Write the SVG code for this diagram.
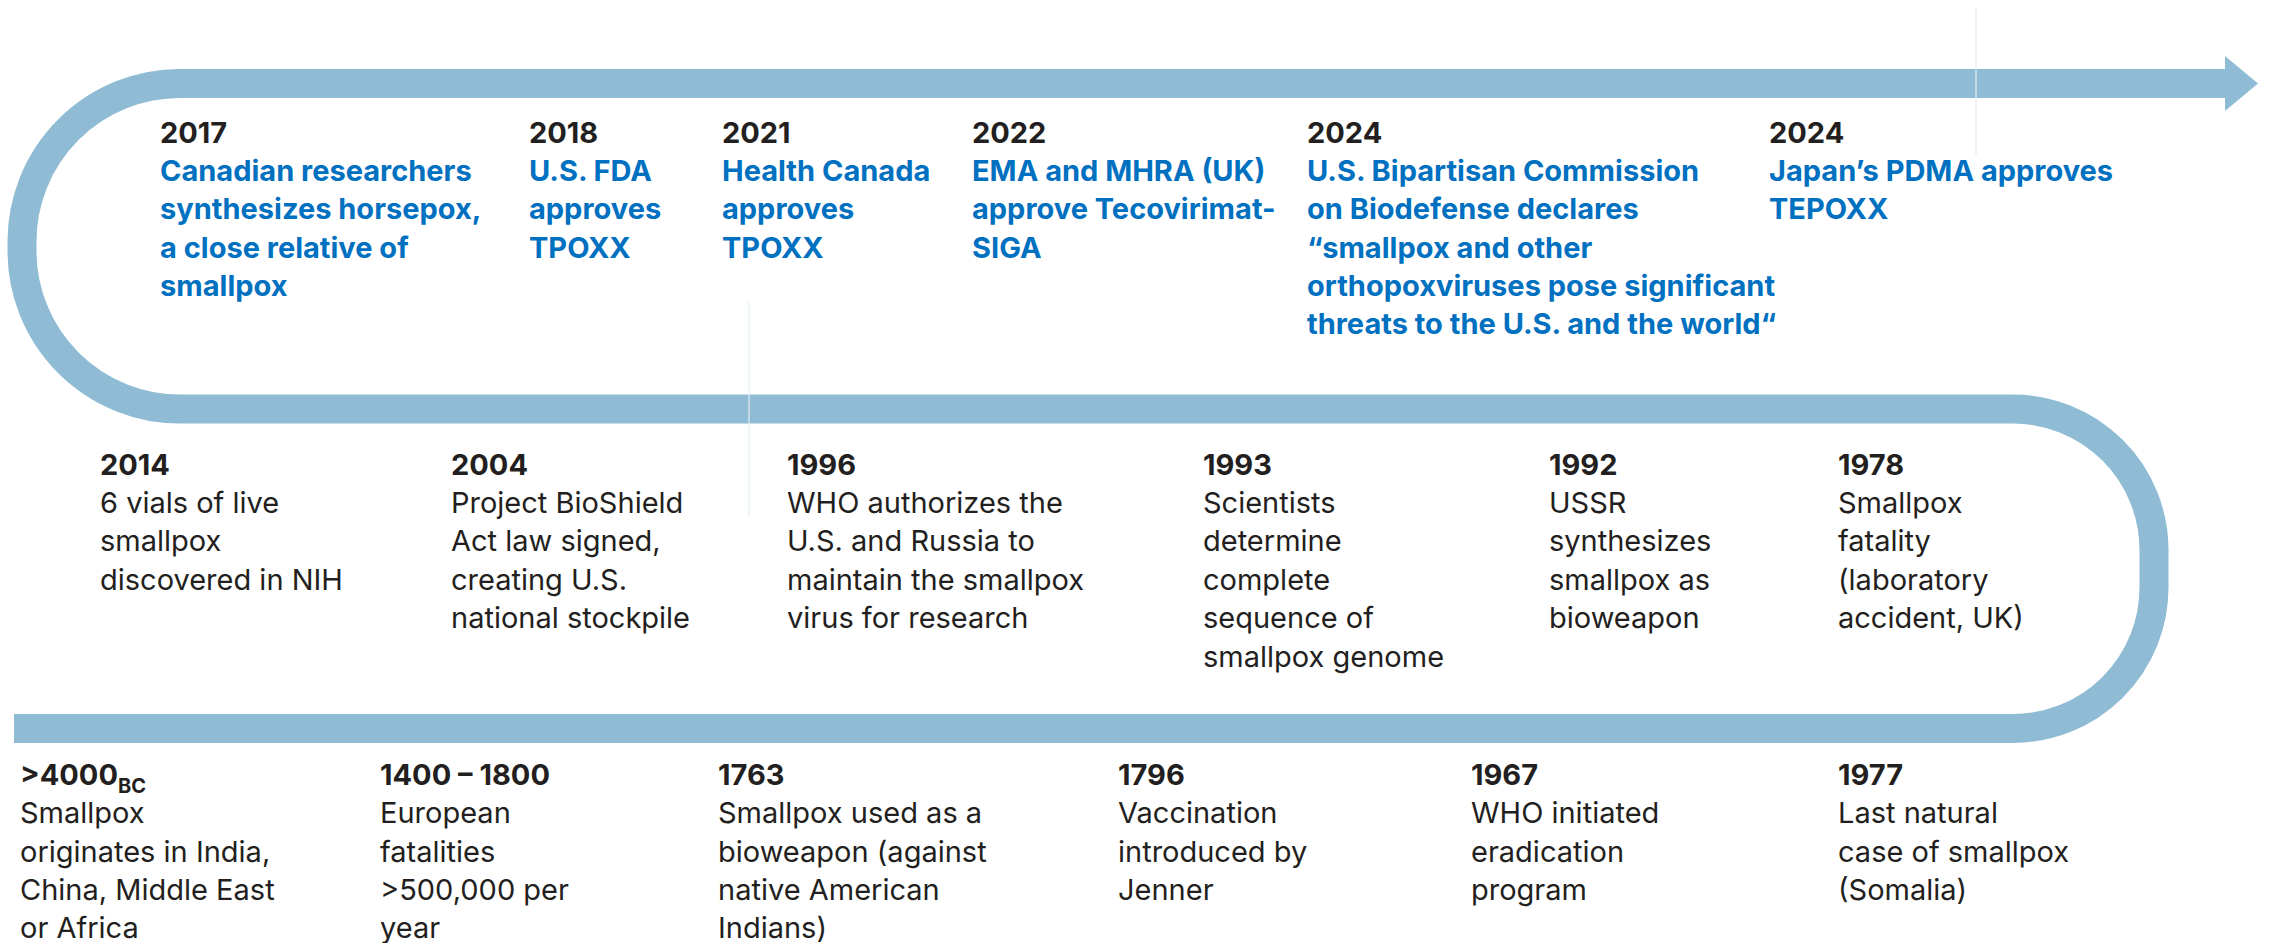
<svg xmlns="http://www.w3.org/2000/svg" width="2276" height="943" viewBox="0 0 2276 943">
<style>
text{font-family:Inter,"Liberation Sans",sans-serif;font-size:29px}
.yr{font-weight:700;fill:#231F20}
.bl{font-weight:700;fill:#0070C0}
.tx{font-weight:400;fill:#231F20}
.sub{font-size:20px;font-weight:700;fill:#231F20}
.band{fill:none;stroke:#8FBCD4;stroke-width:29}
.seam{stroke:#E3EEF5;stroke-width:1.2}
</style>
<rect width="2276" height="943" fill="#FFFFFF"/>
<g id="connectors">
<path class="band" d="M14 728.5 H2013 A141 141 0 0 0 2154 587.5 V550 A141 141 0 0 0 2013 409 H180 A158 158 0 0 1 22 251 V241.5 A158 158 0 0 1 180 83.5 H2226"/>
<polygon points="2225,56 2258,83.5 2225,111" fill="#8FBCD4"/>
<line class="seam" x1="749" y1="302" x2="749" y2="517"/>
<line class="seam" x1="1976" y1="7" x2="1976" y2="155"/>
</g>
<g id="e2017"><text class="yr" x="160" y="143">2017</text><text class="bl" x="160"><tspan x="160" y="181">Canadian researchers</tspan><tspan x="160" y="219">synthesizes horsepox,</tspan><tspan x="160" y="258">a close relative of</tspan><tspan x="160" y="296">smallpox</tspan></text></g>
<g id="e2018"><text class="yr" x="529" y="143">2018</text><text class="bl"><tspan x="529" y="181">U.S. FDA</tspan><tspan x="529" y="219">approves</tspan><tspan x="529" y="258">TPOXX</tspan></text></g>
<g id="e2021"><text class="yr" x="722" y="143">2021</text><text class="bl"><tspan x="722" y="181">Health Canada</tspan><tspan x="722" y="219">approves</tspan><tspan x="722" y="258">TPOXX</tspan></text></g>
<g id="e2022"><text class="yr" x="972" y="143">2022</text><text class="bl"><tspan x="972" y="181">EMA and MHRA (UK)</tspan><tspan x="972" y="219">approve Tecovirimat-</tspan><tspan x="972" y="258">SIGA</tspan></text></g>
<g id="e2024a"><text class="yr" x="1307" y="143">2024</text><text class="bl"><tspan x="1307" y="181">U.S. Bipartisan Commission</tspan><tspan x="1307" y="219">on Biodefense declares</tspan><tspan x="1307" y="258">“smallpox and other</tspan><tspan x="1307" y="296">orthopoxviruses pose significant</tspan><tspan x="1307" y="334">threats to the U.S. and the world“</tspan></text></g>
<g id="e2024b"><text class="yr" x="1769" y="143">2024</text><text class="bl"><tspan x="1769" y="181">Japan’s PDMA approves</tspan><tspan x="1769" y="219">TEPOXX</tspan></text></g>
<g id="e2014"><text class="yr" x="100" y="475">2014</text><text class="tx"><tspan x="100" y="513">6 vials of live</tspan><tspan x="100" y="551">smallpox</tspan><tspan x="100" y="590">discovered in NIH</tspan></text></g>
<g id="e2004"><text class="yr" x="451" y="475">2004</text><text class="tx"><tspan x="451" y="513">Project BioShield</tspan><tspan x="451" y="551">Act law signed,</tspan><tspan x="451" y="590">creating U.S.</tspan><tspan x="451" y="628">national stockpile</tspan></text></g>
<g id="e1996"><text class="yr" x="787" y="475">1996</text><text class="tx"><tspan x="787" y="513">WHO authorizes the</tspan><tspan x="787" y="551">U.S. and Russia to</tspan><tspan x="787" y="590">maintain the smallpox</tspan><tspan x="787" y="628">virus for research</tspan></text></g>
<g id="e1993"><text class="yr" x="1203" y="475">1993</text><text class="tx"><tspan x="1203" y="513">Scientists</tspan><tspan x="1203" y="551">determine</tspan><tspan x="1203" y="590">complete</tspan><tspan x="1203" y="628">sequence of</tspan><tspan x="1203" y="667">smallpox genome</tspan></text></g>
<g id="e1992"><text class="yr" x="1549" y="475">1992</text><text class="tx"><tspan x="1549" y="513">USSR</tspan><tspan x="1549" y="551">synthesizes</tspan><tspan x="1549" y="590">smallpox as</tspan><tspan x="1549" y="628">bioweapon</tspan></text></g>
<g id="e1978"><text class="yr" x="1838" y="475">1978</text><text class="tx"><tspan x="1838" y="513">Smallpox</tspan><tspan x="1838" y="551">fatality</tspan><tspan x="1838" y="590">(laboratory</tspan><tspan x="1838" y="628">accident, UK)</tspan></text></g>
<g id="e4000bc"><text class="yr" x="20" y="785">&gt;4000<tspan class="sub" dy="8">BC</tspan></text><text class="tx"><tspan x="20" y="823">Smallpox</tspan><tspan x="20" y="862">originates in India,</tspan><tspan x="20" y="900">China, Middle East</tspan><tspan x="20" y="938">or Africa</tspan></text></g>
<g id="e1400"><text class="yr" x="380" y="785">1400 – 1800</text><text class="tx"><tspan x="380" y="823">European</tspan><tspan x="380" y="862">fatalities</tspan><tspan x="380" y="900">&gt;500,000 per</tspan><tspan x="380" y="938">year</tspan></text></g>
<g id="e1763"><text class="yr" x="718" y="785">1763</text><text class="tx"><tspan x="718" y="823">Smallpox used as a</tspan><tspan x="718" y="862">bioweapon (against</tspan><tspan x="718" y="900">native American</tspan><tspan x="718" y="938">Indians)</tspan></text></g>
<g id="e1796"><text class="yr" x="1118" y="785">1796</text><text class="tx"><tspan x="1118" y="823">Vaccination</tspan><tspan x="1118" y="862">introduced by</tspan><tspan x="1118" y="900">Jenner</tspan></text></g>
<g id="e1967"><text class="yr" x="1471" y="785">1967</text><text class="tx"><tspan x="1471" y="823">WHO initiated</tspan><tspan x="1471" y="862">eradication</tspan><tspan x="1471" y="900">program</tspan></text></g>
<g id="e1977"><text class="yr" x="1838" y="785">1977</text><text class="tx"><tspan x="1838" y="823">Last natural</tspan><tspan x="1838" y="862">case of smallpox</tspan><tspan x="1838" y="900">(Somalia)</tspan></text></g>
</svg>
